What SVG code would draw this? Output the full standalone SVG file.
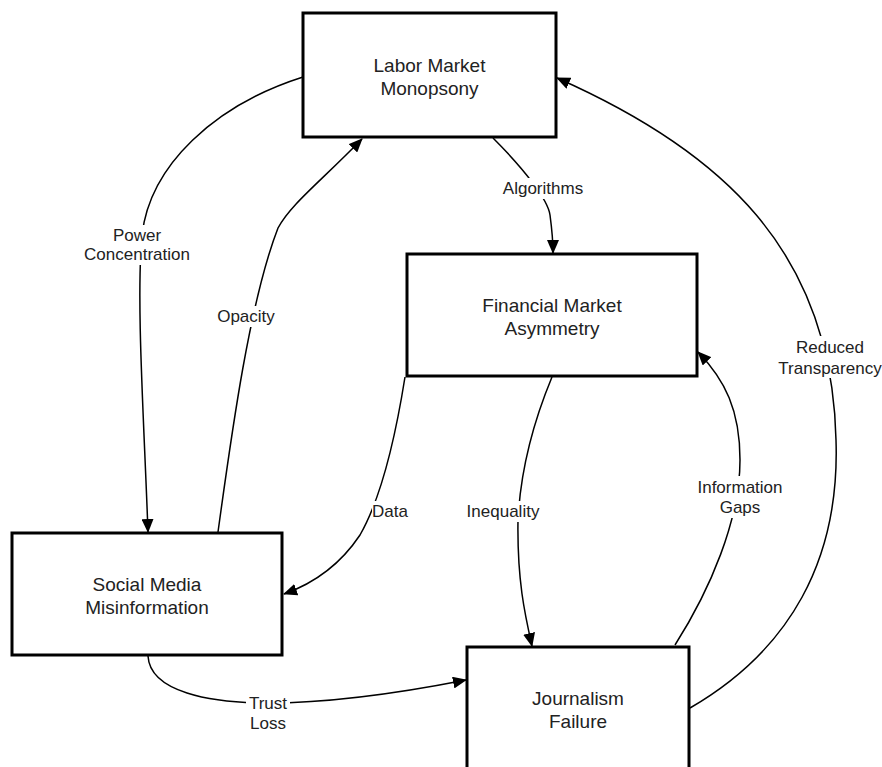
<svg xmlns="http://www.w3.org/2000/svg" width="882" height="767" viewBox="0 0 882 767">
<style>
.node rect{fill:#fff;stroke:#000;stroke-width:3}
.node text{font-family:"Liberation Sans",Arial,sans-serif;font-size:19px;fill:#222;text-anchor:middle}
.edge{fill:none;stroke:#000;stroke-width:1.5;marker-end:url(#arr)}
.lbl rect{fill:#fff}
.lbl text{font-family:"Liberation Sans",Arial,sans-serif;font-size:17px;fill:#222;text-anchor:middle}
</style>
<defs>
<marker id="arr" markerUnits="userSpaceOnUse" markerWidth="14" markerHeight="12" refX="13" refY="6" orient="auto">
<path d="M0,0 L14,6 L0,12 z" fill="#000"/>
</marker>
</defs>
<rect width="882" height="767" fill="#fff"/>
<g id="connectors">
<path class="edge" d="M303,77 C215,105 150,165 142,235 C136,300 144,420 148,532"/>
<path class="edge" d="M218,532 C232,430 250,300 278,228 C290,205 320,182 362,139"/>
<path class="edge" d="M493,138 C525,170 548,200 550,215 C552,230 553,240 553,253"/>
<path class="edge" d="M405,377 C395,440 380,500 360,535 C340,565 315,583 284,594"/>
<path class="edge" d="M552,377 C530,430 520,480 518,520 C517,580 525,615 532,646"/>
<path class="edge" d="M675,645 C710,590 740,520 740,460 C740,410 725,380 698,352"/>
<path class="edge" d="M690,708 C790,650 840,560 836,440 C832,250 720,150 557,78"/>
<path class="edge" d="M148,656 C150,692 210,703 268,703 C330,703 400,693 466,680"/>
</g>
<g id="edge-labels">
<g class="lbl"><rect x="87" y="225" width="100" height="40"/><text x="137" y="241">Power</text><text x="137" y="260">Concentration</text></g>
<g class="lbl"><rect x="216" y="306" width="60" height="21"/><text x="246" y="322">Opacity</text></g>
<g class="lbl"><rect x="501" y="178" width="84" height="21"/><text x="543" y="194">Algorithms</text></g>
<g class="lbl"><rect x="372" y="501" width="37" height="21"/><text x="390" y="517">Data</text></g>
<g class="lbl"><rect x="465" y="501" width="76" height="21"/><text x="503" y="517">Inequality</text></g>
<g class="lbl"><rect x="696" y="476" width="89" height="42"/><text x="740" y="493">Information</text><text x="740" y="513">Gaps</text></g>
<g class="lbl"><rect x="777" y="336" width="105" height="42"/><text x="830" y="353">Reduced</text><text x="830" y="374">Transparency</text></g>
<g class="lbl"><rect x="246" y="692" width="44" height="42"/><text x="268" y="709">Trust</text><text x="268" y="729">Loss</text></g>
</g>
<g id="labor" class="node"><rect x="303" y="13" width="253" height="124"/><text x="429.5" y="71.5">Labor Market</text><text x="429.5" y="94.5">Monopsony</text></g>
<g id="financial" class="node"><rect x="407" y="254" width="290" height="122"/><text x="552" y="311.5">Financial Market</text><text x="552" y="334.5">Asymmetry</text></g>
<g id="social" class="node"><rect x="12" y="533" width="270" height="122"/><text x="147" y="590.5">Social Media</text><text x="147" y="613.5">Misinformation</text></g>
<g id="journalism" class="node"><rect x="467" y="647" width="222" height="124"/><text x="578" y="704.5">Journalism</text><text x="578" y="727.5">Failure</text></g>
</svg>
